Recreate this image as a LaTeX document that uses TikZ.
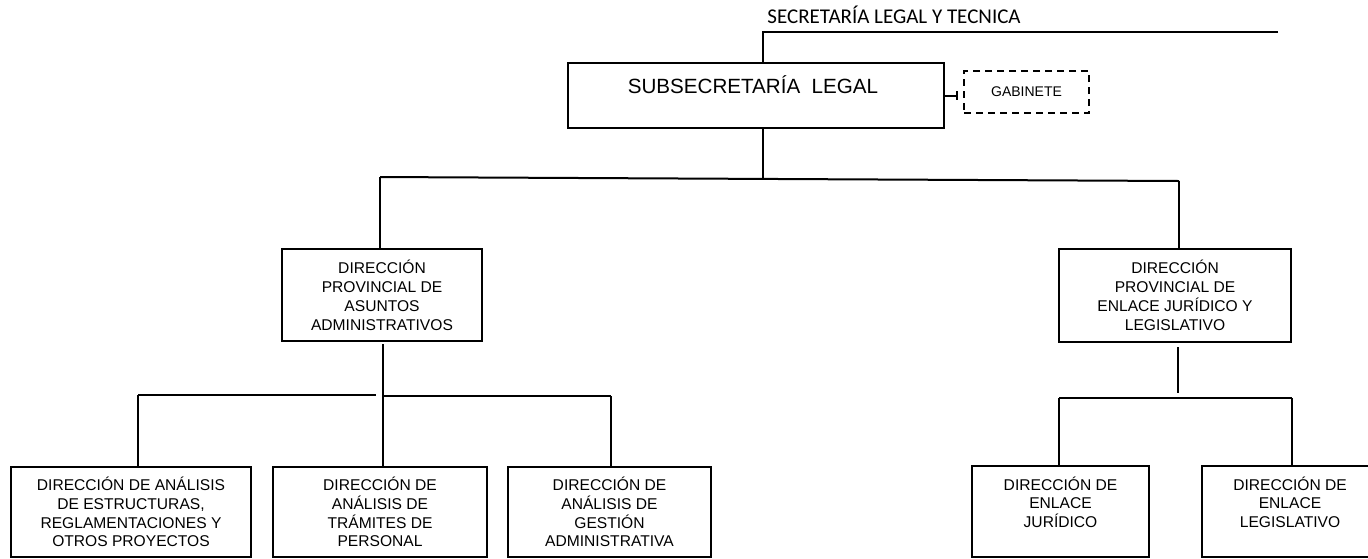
\documentclass[tikz,border=0pt]{standalone}
\usepackage{fontspec}
\setmainfont{Liberation Sans}
\newfontfamily\calibrifont{Carlito}
\begin{document}
\begin{tikzpicture}[x=0.5pt,y=-0.5pt,
  link/.style={line width=1pt},
  unit/.style={draw, line width=1pt, inner sep=0pt, align=center,
               font=\fontsize{7.8}{9.4}\selectfont},
  midunit/.style={unit, font=\fontsize{7.8}{9.5}\selectfont},
  staff/.style={draw, line width=0.8pt, dash pattern=on 3.5pt off 2.5pt,
                inner sep=0pt, font=\fontsize{7}{8}\selectfont}]
\useasboundingbox (0,0) rectangle (1368,558);

% secretariat line at the top
\node[font=\calibrifont\fontsize{10.5}{12}\selectfont, anchor=base west, inner sep=0pt]
  (sec) at (767,23) {SECRETARÍA LEGAL Y TECNICA};
\coordinate (tl) at (763,32);
\coordinate (tr) at (1278,32);

% undersecretariat and cabinet
\node[draw, line width=1pt, minimum width=188pt, minimum height=32.5pt, inner sep=0pt]
  (sub) at (756,95.5) {};
\node[font=\fontsize{10.3}{12}\selectfont, anchor=base, inner sep=0pt]
  (subt) at (753,93) {SUBSECRETARÍA\ \ LEGAL};
\node[staff, minimum width=62.5pt, minimum height=21pt] (gab) at (1026.5,92) {GABINETE};
\coordinate (gk) at (957,95.5);

\draw[link] (tr) -- (tl) -- (tl |- sub.north);
\draw[link] (sub.east) -- (gk);
\draw[line width=0.8pt] (gk) ++(0,-4.5) -- ++(0,9);

% provincial directorates
\node[midunit, minimum width=100pt, minimum height=46pt] (dpa) at (382,295)
  {DIRECCIÓN\\PROVINCIAL DE\\ASUNTOS\\ADMINISTRATIVOS};
\node[midunit, minimum width=116pt, minimum height=46.5pt] (dpe) at (1175,295.5)
  {DIRECCIÓN\\PROVINCIAL DE\\ENLACE JURÍDICO Y\\LEGISLATIVO};

\coordinate (b1l) at (380,177);
\coordinate (b1r) at (1179,181);
\coordinate (b1m) at (763,178.9);
\draw[link] (sub.south -| tl) -- (b1m);
\draw[link] (b1l) -- (b1r);
\draw[link] (b1l) -- (b1l |- dpa.north);
\draw[link] (b1r) -- (b1r |- dpe.north);

% directorates under administrative affairs
\node[unit, minimum width=120pt, minimum height=45pt] (d1) at (131,512)
  {DIRECCIÓN DE ANÁLISIS\\DE ESTRUCTURAS,\\REGLAMENTACIONES Y\\OTROS PROYECTOS};
\node[unit, minimum width=107pt, minimum height=45pt] (d2) at (380,512)
  {DIRECCIÓN DE\\ANÁLISIS DE\\TRÁMITES DE\\PERSONAL};
\node[unit, minimum width=101.5pt, minimum height=45pt] (d3) at (609.5,512)
  {DIRECCIÓN DE\\ANÁLISIS DE\\GESTIÓN\\ADMINISTRATIVA};

\coordinate (b2a) at (138,395);
\coordinate (b2b) at (376,395);
\coordinate (b2c) at (383,396);
\coordinate (b2d) at (611,396);
\draw[link] (b2a) -- (b2b);
\draw[link] (b2c) -- (b2d);
\draw[link] (b2a) -- (b2a |- d1.north);
\draw[link] (dpa.south -| b2c) ++(0,2) -- (b2c |- d2.north);
\draw[link] (b2d) -- (b2d |- d3.north);

% directorates under legal and legislative liaison
\node[unit, minimum width=88.5pt, minimum height=45.5pt] (d4) at (1060.5,511.5)
  {DIRECCIÓN DE\\ENLACE\\JURÍDICO\\ \mbox{}};
\node[unit, minimum width=88pt, minimum height=45.5pt] (d5) at (1290,511.5)
  {DIRECCIÓN DE\\ENLACE\\LEGISLATIVO\\ \mbox{}};

\coordinate (b3l) at (1059,398);
\coordinate (b3r) at (1292,398);
\coordinate (b3m) at (1178,393);
\draw[link] (dpe.south -| b3m) ++(0,4) -- (b3m);
\draw[link] (b3l) -- (b3r);
\draw[link] (b3l) -- (b3l |- d4.north);
\draw[link] (b3r) -- (b3r |- d5.north);
\end{tikzpicture}
\end{document}
